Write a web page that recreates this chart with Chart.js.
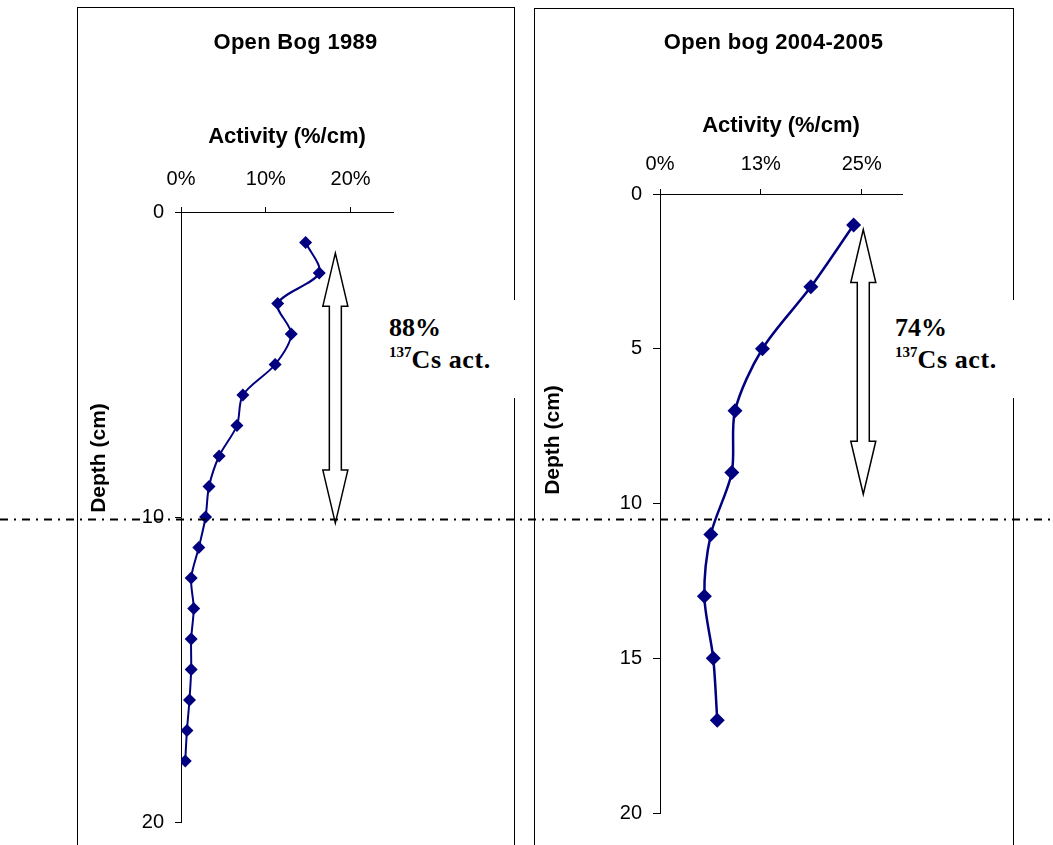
<!DOCTYPE html>
<html>
<head>
<meta charset="utf-8">
<script src="https://cdn.jsdelivr.net/npm/chart.js@4.4.1/dist/chart.umd.min.js"></script>
<style>
  body { margin: 0; background: #fff; width: 1053px; height: 845px; overflow: hidden; position: relative; }
  .panel { position: absolute; border: 1px solid #000; box-sizing: border-box; }
  #panelLeft { left: 77px; top: 7px; width: 438px; height: 900px; }
  #panelRight { left: 534px; top: 8px; width: 480px; height: 900px; }
  canvas { position: absolute; }
  #chartLeft { left: 77px; top: 7px; }
  #chartRight { left: 534px; top: 8px; }
  .note {
    position: absolute; background: #fff; color: #000;
    font-family: "Liberation Serif", "Times New Roman", serif;
    font-weight: bold; font-size: 26px; line-height: 32px;
    padding-top: 12px; box-sizing: border-box; height: 98px;
  }
  .note sup { font-size: 15px; vertical-align: 11px; line-height: 0; }
  .note .cs { letter-spacing: 0.6px; }
  #noteLeft { left: 383px; top: 300px; width: 142px; padding-left: 6px; }
  #noteRight { left: 888px; top: 300px; width: 137px; padding-left: 7px; }
  #refLine { position: absolute; left: 0; top: 0; }
</style>
</head>
<body>
<div class="panel" id="panelLeft"></div>
<div class="panel" id="panelRight"></div>
<canvas id="chartLeft" width="437" height="838"></canvas>
<canvas id="chartRight" width="479" height="837"></canvas>
<div class="note" id="noteLeft">88%<br><sup>137</sup><span class="cs">Cs act.</span></div>
<div class="note" id="noteRight">74%<br><sup>137</sup><span class="cs">Cs act.</span></div>
<svg id="refLine" width="1053" height="845">
  <line x1="0" y1="519.5" x2="1053" y2="519.5" stroke="#000" stroke-width="2" stroke-dasharray="8 6 2 6"/>
</svg>
<script>
// Open Bog 1989 profile
const depthLeft = [1, 2, 3, 4, 5, 6, 7, 8, 9, 10, 11, 12, 13, 14, 15, 16, 17, 18];
const activityLeft = [14.7, 16.3, 11.4, 13.0, 11.1, 7.3, 6.6, 4.5, 3.3, 2.9, 2.1, 1.2, 1.5, 1.2, 1.2, 1.0, 0.7, 0.5];
const xTicksLeft = [0, 10, 20];
const yTicksLeft = [0, 10, 20];

// Open bog 2004-2005 profile
const depthRight = [1, 3, 5, 7, 9, 11, 13, 15, 17];
const activityRight = [24.0, 18.7, 12.7, 9.3, 8.9, 6.3, 5.5, 6.6, 7.1];
const xTicksRight = [0, 12.5, 25];
const yTicksRight = [0, 5, 10, 15, 20];

const FONT = '"Liberation Sans", Arial, sans-serif';
Chart.defaults.font.family = FONT;
Chart.defaults.color = '#000';

// panel title, double arrow and rotated depth label
const panelExtras = {
    id: 'panelExtras',
    afterDatasetsDraw(chart, args, opts) {
        const ctx = chart.ctx;
        const xs = chart.scales.x, ys = chart.scales.y;
        const cx = xs.getPixelForValue(opts.arrow.x);
        const top = ys.getPixelForValue(opts.arrow.from);
        const bot = ys.getPixelForValue(opts.arrow.to);
        const hw = 12.5, sw = 6, hl = 53;
        ctx.save();
        ctx.beginPath();
        ctx.moveTo(cx, top);
        ctx.lineTo(cx + hw, top + hl);
        ctx.lineTo(cx + sw, top + hl);
        ctx.lineTo(cx + sw, bot - hl);
        ctx.lineTo(cx + hw, bot - hl);
        ctx.lineTo(cx, bot);
        ctx.lineTo(cx - hw, bot - hl);
        ctx.lineTo(cx - sw, bot - hl);
        ctx.lineTo(cx - sw, top + hl);
        ctx.lineTo(cx - hw, top + hl);
        ctx.closePath();
        ctx.fillStyle = '#fff';
        ctx.fill();
        ctx.lineWidth = 1.5;
        ctx.strokeStyle = '#000';
        ctx.stroke();

        ctx.fillStyle = '#000';
        ctx.textAlign = 'center';
        ctx.textBaseline = 'middle';
        ctx.font = 'bold 22px ' + FONT;
        ctx.letterSpacing = '0.3px';
        ctx.fillText(opts.title.text, chart.width / 2, opts.title.y);
        ctx.letterSpacing = '0px';

        ctx.translate(opts.yLabel.x, opts.yLabel.y);
        ctx.rotate(-Math.PI / 2);
        ctx.font = 'bold 21px ' + FONT;
        ctx.fillText(opts.yLabel.text, 0, 0);
        ctx.restore();
    }
};

function makeProfile(id, c) {
    return new Chart(document.getElementById(id), {
        type: 'scatter',
        data: {
            datasets: [{
                data: c.depth.map((d, i) => ({ x: c.activity[i], y: d })),
                showLine: true,
                borderColor: '#000080',
                backgroundColor: '#000080',
                borderWidth: c.lineWidth,
                tension: 0.3,
                pointStyle: 'rectRot',
                pointRadius: c.pointRadius,
                pointBorderWidth: 0
            }]
        },
        options: {
            responsive: false,
            animation: false,
            layout: { padding: { left: 0, top: c.padTop, right: c.padRight, bottom: c.padBottom } },
            plugins: {
                legend: { display: false },
                tooltip: { enabled: false },
                title: { display: false },
                panelExtras: { arrow: c.arrow, yLabel: c.yLabel, title: { text: c.title, y: c.titleY } }
            },
            scales: {
                x: {
                    type: 'linear',
                    position: 'top',
                    min: 0,
                    max: c.xMax,
                    afterBuildTicks: s => { s.ticks = c.xTicks.map(v => ({ value: v })); },
                    afterFit: s => { s.height = c.xHeight; },
                    ticks: {
                        callback: v => Math.round(v) + '%',
                        color: '#000',
                        font: { size: 20 },
                        padding: c.xTickPad,
                        maxRotation: 0,
                        autoSkip: false
                    },
                    grid: { drawOnChartArea: false, drawTicks: true, tickLength: 5, color: '#000' },
                    border: { display: true, color: '#000', width: 1 },
                    title: {
                        display: true,
                        text: 'Activity (%/cm)',
                        color: '#000',
                        font: { size: 22, weight: 'bold' },
                        padding: { top: c.xTitlePad, bottom: 0 }
                    }
                },
                y: {
                    type: 'linear',
                    reverse: true,
                    min: 0,
                    max: 20,
                    afterBuildTicks: s => { s.ticks = c.yTicks.map(v => ({ value: v })); },
                    afterFit: s => { s.width = c.yWidth; },
                    ticks: { color: '#000', font: { size: 20 }, padding: 11 },
                    grid: { drawOnChartArea: false, drawTicks: true, tickLength: c.yTickLen, color: '#000' },
                    border: { display: true, color: '#000', width: 1 }
                }
            }
        },
        plugins: [panelExtras]
    });
}

makeProfile('chartLeft', {
    title: 'Open Bog 1989', titleY: 36,
    depth: depthLeft, activity: activityLeft,
    xTicks: xTicksLeft, yTicks: yTicksLeft, xMax: 25,
    lineWidth: 2, pointRadius: 6.5,
    padTop: 47, padRight: 121, padBottom: 22,
    xHeight: 158, xTitlePad: 70, xTickPad: 16,
    yWidth: 104, yTickLen: 6,
    arrow: { x: 18.2, from: 1.35, to: 10.2 },
    yLabel: { text: 'Depth (cm)', x: 22, y: 451 }
});

makeProfile('chartRight', {
    title: 'Open bog 2004-2005', titleY: 35,
    depth: depthRight, activity: activityRight,
    xTicks: xTicksRight, yTicks: yTicksRight, xMax: 30,
    lineWidth: 2.5, pointRadius: 7.5,
    padTop: 46, padRight: 111, padBottom: 32,
    xHeight: 140, xTitlePad: 59, xTickPad: 12.5,
    yWidth: 126, yTickLen: 7,
    arrow: { x: 25.2, from: 1.15, to: 9.7 },
    yLabel: { text: 'Depth (cm)', x: 19, y: 432 }
});
</script>
</body>
</html>
